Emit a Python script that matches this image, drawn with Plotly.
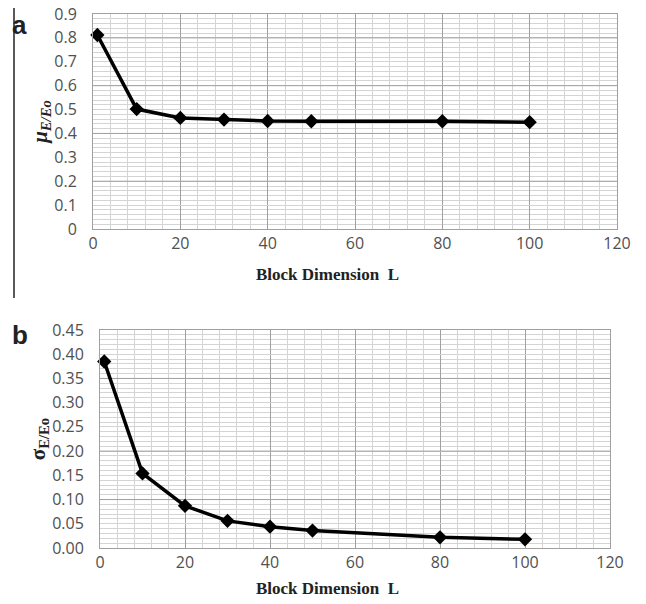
import plotly.graph_objects as go

# ---- data ----
block_L = [1, 10, 20, 30, 40, 50, 80, 100]
mu_ratio = [0.812, 0.502, 0.465, 0.458, 0.452, 0.451, 0.451, 0.447]
sigma_ratio = [0.385, 0.154, 0.087, 0.056, 0.044, 0.036, 0.022, 0.018]

x_ticks = [0, 20, 40, 60, 80, 100, 120]
mu_ticks = [0, 0.1, 0.2, 0.3, 0.4, 0.5, 0.6, 0.7, 0.8, 0.9]
mu_tick_text = ["0", "0.1", "0.2", "0.3", "0.4", "0.5", "0.6", "0.7", "0.8", "0.9"]
sigma_ticks = [0, 0.05, 0.10, 0.15, 0.20, 0.25, 0.30, 0.35, 0.40, 0.45]
sigma_tick_text = ["0.00", "0.05", "0.10", "0.15", "0.20", "0.25", "0.30", "0.35", "0.40", "0.45"]
mu_major = [0.2, 0.4, 0.6, 0.8]
sigma_major = [0.1, 0.2, 0.35]
x_title = "<b>Block Dimension  L</b>"

# page body has an 8px default margin; size the figure to fit the 646x604 window
OFF = 8
W, H = 646 - OFF, 604 - OFF

def fx(px):
    return (px - OFF) / W

def fy(py):
    return 1 - (py - OFF) / H

TICKFONT = dict(family="Open Sans", size=16, color="#505050")
TITLEFONT = dict(family="Liberation Serif", size=17, color="#222")
MINOR = "#d4d4d4"
MAJOR = "#a0a0a0"

fig = go.Figure()
marker = dict(symbol="diamond", size=11, color="black")
line = dict(color="black", width=3.5)
fig.add_trace(go.Scatter(x=block_L, y=mu_ratio, mode="lines+markers",
                         marker=marker, line=line, xaxis="x", yaxis="y",
                         showlegend=False, cliponaxis=False))
fig.add_trace(go.Scatter(x=block_L, y=sigma_ratio, mode="lines+markers",
                         marker=marker, line=line, xaxis="x2", yaxis="y2",
                         showlegend=False, cliponaxis=False))

def xaxis(domain, anchor):
    return dict(domain=domain, anchor=anchor, range=[0, 120], tickvals=x_ticks,
                showgrid=True, gridcolor=MAJOR, gridwidth=1,
                minor=dict(dtick=4, showgrid=True, gridcolor=MINOR, gridwidth=1),
                showline=True, linecolor=MAJOR, mirror=True, ticks="",
                tickfont=TICKFONT, zeroline=False, ticklabelstandoff=0,
                ticklabeloverflow="allow", automargin=False)

def yaxis(domain, anchor, rng, tv, tt, mdt, title):
    return dict(domain=domain, anchor=anchor, range=rng,
                tickvals=tv, ticktext=tt,
                showgrid=True, gridcolor=MINOR,
                minor=dict(dtick=mdt, showgrid=True, gridcolor=MINOR),
                showline=True, linecolor=MAJOR, mirror=True, ticks="",
                tickfont=TICKFONT, zeroline=False, ticklabelstandoff=12,
                ticklabeloverflow="allow", automargin=False,
                title=dict(text=title,
                           font=dict(family="Liberation Serif", size=21, color="#222"),
                           standoff=0))

fig.update_layout(
    width=W, height=H, margin=dict(l=0, r=0, t=0, b=0, autoexpand=False),
    plot_bgcolor="white", paper_bgcolor="white",
    xaxis=xaxis([fx(93), fx(617)], "y"),
    yaxis=yaxis([fy(229), fy(14)], "x", [0, 0.9], mu_ticks, mu_tick_text, 0.02,
                "<b><i>μ</i><sub><i>E/Eo</i></sub></b>"),
    xaxis2=xaxis([fx(100), fx(610)], "y2"),
    yaxis2=yaxis([fy(548), fy(330)], "x2", [0, 0.45], sigma_ticks, sigma_tick_text, 0.01,
                 "<b>σ<sub>E/Eo</sub></b>"),
)

shapes = []
for v in mu_major:
    shapes.append(dict(type="line", xref="x", yref="y", x0=0, x1=120, y0=v, y1=v,
                       line=dict(color=MAJOR, width=1), layer="between"))
for v in sigma_major:
    shapes.append(dict(type="line", xref="x2", yref="y2", x0=0, x1=120, y0=v, y1=v,
                       line=dict(color=MAJOR, width=1), layer="between"))
# left border line of the figure crop
shapes.append(dict(type="line", xref="paper", yref="paper", x0=fx(14), x1=fx(14),
                   y0=fy(298), y1=1, line=dict(color="#222", width=1.5)))
fig.update_layout(shapes=shapes)

for ytitle in (274, 588):
    fig.add_annotation(text=x_title, xref="paper", yref="paper", x=fx(328), y=fy(ytitle),
                       xanchor="center", yanchor="middle", showarrow=False, font=TITLEFONT)

fig.add_annotation(text="<b>a</b>", xref="paper", yref="paper", x=fx(10), y=1,
                   xanchor="left", yanchor="top", showarrow=False,
                   font=dict(family="Liberation Sans", size=26, color="#222"))
fig.add_annotation(text="<b>b</b>", xref="paper", yref="paper", x=fx(10), y=fy(318),
                   xanchor="left", yanchor="top", showarrow=False,
                   font=dict(family="Liberation Sans", size=26, color="#222"))

fig.write_html("out.html")
